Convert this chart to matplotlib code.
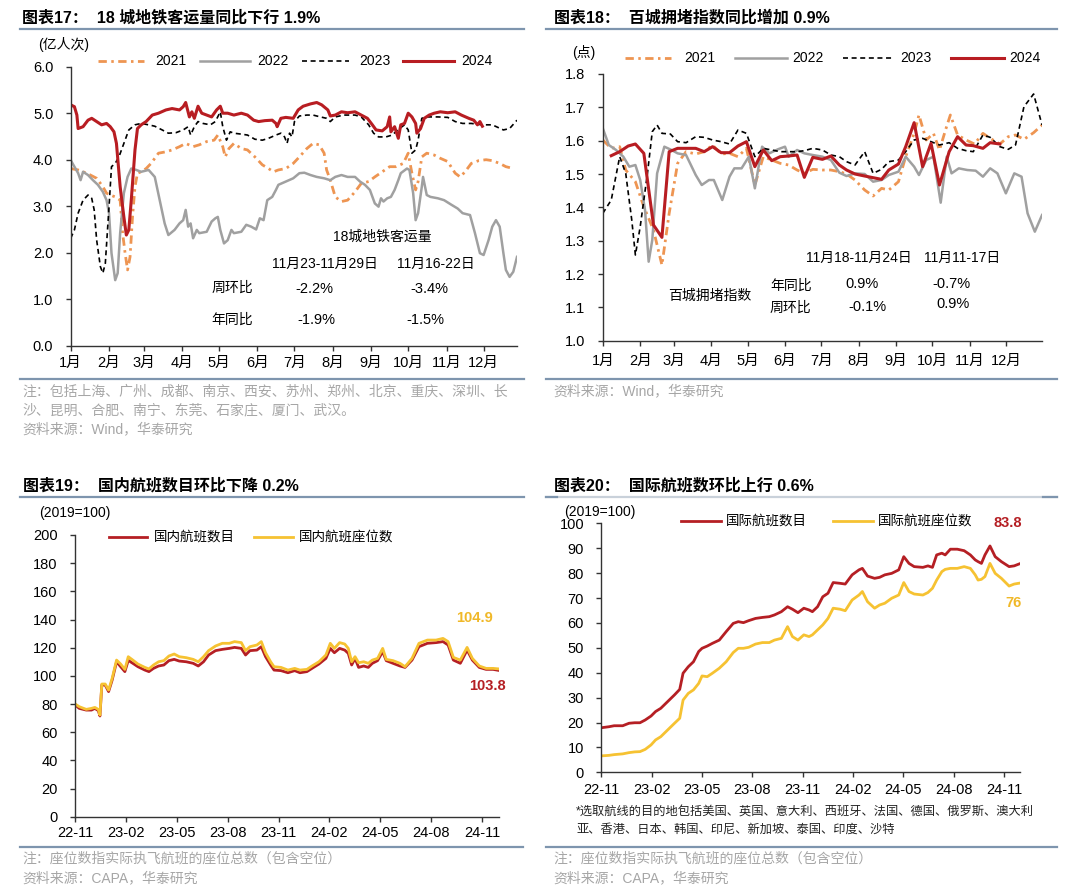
import numpy as np
import matplotlib
matplotlib.use('Agg')
import matplotlib.pyplot as plt
from matplotlib.lines import Line2D

plt.rcParams['font.family'] = ['Liberation Sans', 'Noto Sans CJK SC', 'DejaVu Sans']
plt.rcParams['lines.scale_dashes'] = False
plt.rcParams['axes.unicode_minus'] = False

# ---------------- DATA ----------------
month_labels = ['1月', '2月', '3月', '4月', '5月', '6月', '7月', '8月', '9月', '10月', '11月', '12月']
month_start_days = [0, 31, 59, 90, 120, 151, 181, 212, 243, 273, 304, 334]

# Chart 17: metro ridership (亿人次), x = day of year
metro_2021_day = [0, 6, 13, 21, 26, 29, 32, 36, 40, 42, 44, 46, 48, 50, 52, 54, 57, 61, 65, 71, 77, 82, 88, 93, 99, 104, 110, 116, 119, 123, 125, 128, 132, 138, 143, 149, 155, 160, 164, 168, 174, 180, 185, 191, 196, 201, 205, 207, 210, 214, 219, 224, 230, 235, 241, 246, 252, 258, 263, 269, 273, 276, 279, 281, 284, 288, 294, 299, 305, 311, 315, 319, 324, 330, 336, 341, 347, 352, 358]
metro_2021 = [3.81, 3.78, 3.71, 3.60, 3.42, 3.28, 3.24, 3.20, 3.13, 2.42, 1.99, 1.63, 1.91, 2.77, 3.42, 3.71, 3.74, 3.81, 3.92, 4.14, 4.17, 4.21, 4.28, 4.35, 4.28, 4.32, 4.39, 4.42, 4.53, 4.28, 4.06, 4.24, 4.35, 4.24, 4.21, 4.06, 3.89, 3.81, 3.74, 3.78, 3.81, 3.92, 4.06, 4.24, 4.35, 4.32, 4.14, 3.78, 3.56, 3.20, 3.10, 3.13, 3.31, 3.49, 3.53, 3.63, 3.74, 3.85, 3.85, 3.92, 4.14, 3.71, 3.35, 3.53, 4.06, 4.14, 4.10, 4.03, 3.96, 3.71, 3.63, 3.74, 3.92, 3.98, 4.00, 3.98, 3.92, 3.85, 3.81]

metro_2022_day = [0, 3, 6, 8, 10, 14, 18, 22, 26, 29, 31, 33, 36, 38, 40, 43, 46, 49, 53, 57, 63, 68, 72, 76, 79, 84, 88, 91, 93, 95, 97, 99, 102, 104, 110, 114, 117, 119, 121, 124, 127, 130, 132, 138, 142, 146, 150, 153, 156, 159, 163, 166, 168, 174, 180, 185, 189, 194, 199, 205, 210, 214, 219, 224, 230, 234, 238, 242, 246, 249, 251, 253, 256, 259, 262, 265, 267, 272, 274, 277, 279, 281, 284, 285, 288, 291, 297, 302, 308, 313, 317, 323, 327, 331, 334, 338, 341, 344, 347, 350, 352, 355, 358, 361]
metro_2022 = [3.99, 3.85, 3.71, 3.56, 3.74, 3.67, 3.56, 3.46, 3.31, 3.13, 2.85, 1.99, 1.41, 1.56, 2.42, 3.28, 3.63, 3.81, 3.78, 3.74, 3.78, 3.63, 3.13, 2.63, 2.38, 2.49, 2.63, 2.70, 2.92, 2.56, 2.63, 2.31, 2.49, 2.42, 2.45, 2.67, 2.74, 2.77, 2.49, 2.20, 2.27, 2.49, 2.42, 2.45, 2.60, 2.56, 2.50, 2.74, 2.70, 3.13, 3.20, 3.35, 3.46, 3.53, 3.60, 3.71, 3.72, 3.67, 3.63, 3.60, 3.56, 3.63, 3.67, 3.63, 3.63, 3.53, 3.46, 3.35, 3.06, 2.99, 3.17, 3.10, 3.17, 3.20, 3.35, 3.56, 3.71, 3.81, 3.78, 3.28, 2.70, 2.85, 3.42, 3.63, 3.24, 3.20, 3.17, 3.13, 3.03, 2.95, 2.85, 2.81, 2.42, 1.99, 1.95, 2.27, 2.56, 2.70, 2.56, 1.99, 1.63, 1.48, 1.59, 1.91]

metro_2023_day = [0, 3, 6, 10, 14, 17, 19, 21, 24, 26, 28, 31, 33, 36, 39, 43, 47, 52, 57, 63, 68, 74, 79, 85, 91, 95, 97, 100, 103, 107, 113, 117, 121, 123, 126, 129, 132, 138, 143, 149, 155, 160, 166, 170, 173, 175, 177, 179, 181, 185, 191, 196, 202, 207, 210, 214, 221, 230, 235, 241, 245, 249, 255, 260, 266, 270, 273, 276, 279, 281, 284, 288, 297, 305, 311, 317, 324, 333, 341, 350, 355, 361]
metro_2023 = [2.31, 2.49, 2.85, 3.13, 3.24, 3.17, 2.92, 2.27, 1.70, 1.56, 1.77, 2.99, 3.85, 3.92, 4.06, 4.35, 4.64, 4.75, 4.78, 4.75, 4.72, 4.64, 4.57, 4.58, 4.64, 4.71, 4.53, 4.71, 4.82, 4.78, 4.75, 4.82, 5.03, 4.71, 4.42, 4.60, 4.57, 4.55, 4.53, 4.44, 4.42, 4.46, 4.53, 4.57, 4.49, 4.35, 4.57, 4.49, 4.82, 4.94, 4.96, 4.96, 4.92, 4.89, 4.82, 4.92, 4.96, 4.96, 4.92, 4.75, 4.57, 4.49, 4.49, 4.53, 4.67, 4.75, 4.64, 4.14, 4.21, 4.42, 4.89, 4.92, 4.92, 4.91, 4.82, 4.78, 4.78, 4.75, 4.75, 4.64, 4.67, 4.85]

metro_2024_day = [0, 3, 5, 6, 10, 14, 17, 21, 25, 29, 32, 35, 37, 40, 43, 45, 47, 49, 52, 54, 57, 61, 66, 71, 77, 82, 88, 91, 93, 96, 98, 100, 103, 106, 110, 114, 118, 121, 123, 127, 132, 138, 143, 148, 152, 157, 163, 166, 167, 170, 174, 180, 184, 188, 194, 199, 203, 208, 210, 214, 219, 224, 230, 235, 240, 244, 247, 252, 256, 258, 259, 262, 265, 267, 270, 273, 276, 279, 280, 283, 286, 290, 294, 299, 305, 311, 316, 322, 326, 329, 331, 333]
metro_2024 = [5.18, 5.14, 4.96, 4.67, 4.71, 4.85, 4.89, 4.82, 4.75, 4.78, 4.71, 4.60, 4.35, 3.42, 2.77, 2.38, 2.49, 3.13, 4.21, 4.67, 4.75, 4.82, 4.96, 5.00, 5.07, 5.10, 5.07, 5.14, 5.23, 4.92, 5.03, 4.89, 5.15, 5.00, 4.96, 4.92, 5.07, 5.15, 5.00, 5.00, 4.96, 5.00, 4.96, 4.85, 4.82, 4.84, 4.85, 4.78, 4.71, 4.89, 4.91, 4.89, 5.07, 5.15, 5.20, 5.23, 5.18, 5.07, 4.94, 4.96, 5.03, 5.01, 5.03, 4.96, 4.89, 4.75, 4.64, 4.62, 4.71, 4.92, 4.60, 4.71, 4.46, 4.75, 4.78, 5.00, 4.92, 4.78, 4.57, 4.67, 4.89, 4.96, 5.00, 5.03, 5.01, 5.03, 4.96, 4.89, 4.85, 4.75, 4.82, 4.72]

# Chart 18: congestion index, x = day of year
cong_2021_day = [0, 7, 14, 19, 27, 34, 42, 49, 55, 62, 69, 77, 84, 91, 98, 105, 112, 119, 126, 133, 140, 147, 154, 161, 167, 174, 182, 189, 196, 202, 209, 217, 224, 231, 237, 245, 251, 258, 262, 268, 274, 279, 284, 288, 294, 301, 308, 315, 321, 329, 336, 342, 349, 357, 364]
cong_2021 = [1.602, 1.577, 1.582, 1.512, 1.477, 1.402, 1.332, 1.227, 1.382, 1.532, 1.567, 1.560, 1.567, 1.587, 1.560, 1.562, 1.552, 1.577, 1.467, 1.552, 1.542, 1.532, 1.527, 1.512, 1.502, 1.514, 1.512, 1.512, 1.507, 1.500, 1.482, 1.452, 1.434, 1.457, 1.452, 1.477, 1.552, 1.622, 1.677, 1.602, 1.622, 1.572, 1.632, 1.677, 1.617, 1.602, 1.590, 1.622, 1.607, 1.590, 1.612, 1.617, 1.604, 1.624, 1.647]

cong_2022_day = [0, 5, 11, 17, 22, 27, 31, 35, 38, 41, 45, 51, 57, 62, 69, 77, 82, 88, 92, 99, 105, 109, 115, 121, 126, 132, 138, 145, 151, 154, 161, 167, 174, 182, 189, 196, 202, 209, 217, 224, 231, 237, 245, 251, 258, 262, 268, 274, 280, 285, 289, 295, 302, 309, 315, 321, 327, 334, 341, 347, 352, 358, 364]
cong_2022 = [1.637, 1.587, 1.572, 1.552, 1.522, 1.527, 1.482, 1.392, 1.237, 1.302, 1.502, 1.582, 1.572, 1.562, 1.557, 1.497, 1.467, 1.482, 1.482, 1.422, 1.492, 1.517, 1.517, 1.552, 1.457, 1.582, 1.562, 1.574, 1.582, 1.552, 1.572, 1.562, 1.557, 1.552, 1.542, 1.504, 1.494, 1.502, 1.500, 1.477, 1.482, 1.497, 1.507, 1.552, 1.522, 1.497, 1.542, 1.552, 1.414, 1.552, 1.502, 1.517, 1.512, 1.510, 1.492, 1.517, 1.502, 1.442, 1.502, 1.492, 1.382, 1.327, 1.377]

cong_2023_day = [0, 7, 14, 19, 24, 27, 31, 37, 41, 45, 49, 56, 62, 69, 77, 84, 91, 98, 105, 112, 119, 126, 133, 140, 147, 154, 161, 167, 174, 182, 189, 196, 202, 209, 217, 224, 231, 237, 245, 251, 258, 265, 272, 279, 287, 294, 301, 307, 315, 321, 329, 336, 342, 349, 357, 364]
cong_2023 = [1.382, 1.422, 1.552, 1.502, 1.362, 1.257, 1.342, 1.502, 1.627, 1.647, 1.622, 1.620, 1.597, 1.594, 1.612, 1.610, 1.602, 1.597, 1.590, 1.632, 1.622, 1.552, 1.577, 1.572, 1.567, 1.567, 1.567, 1.570, 1.577, 1.572, 1.557, 1.552, 1.537, 1.527, 1.567, 1.502, 1.514, 1.537, 1.542, 1.567, 1.602, 1.607, 1.597, 1.587, 1.594, 1.577, 1.570, 1.567, 1.617, 1.610, 1.582, 1.574, 1.587, 1.702, 1.740, 1.647]

cong_2024_day = [7, 14, 21, 27, 34, 42, 49, 55, 62, 69, 77, 84, 91, 98, 105, 112, 119, 126, 133, 140, 147, 154, 161, 167, 174, 182, 189, 196, 202, 209, 217, 224, 231, 237, 245, 251, 258, 265, 272, 279, 287, 294, 301, 307, 315, 321, 329]
cong_2024 = [1.555, 1.567, 1.584, 1.590, 1.562, 1.347, 1.310, 1.567, 1.577, 1.577, 1.577, 1.567, 1.582, 1.564, 1.564, 1.584, 1.597, 1.522, 1.572, 1.540, 1.552, 1.554, 1.557, 1.490, 1.550, 1.544, 1.554, 1.527, 1.512, 1.500, 1.494, 1.489, 1.484, 1.512, 1.530, 1.582, 1.654, 1.522, 1.592, 1.467, 1.567, 1.612, 1.587, 1.585, 1.577, 1.594, 1.590]

# Chart 19 / 20: flights (2019=100), x = months since 2022-11
period_labels = ['22-11', '23-02', '23-05', '23-08', '23-11', '24-02', '24-05', '24-08', '24-11']
period_pos = [0, 3, 6, 9, 12, 15, 18, 21, 24]

dom_month = [0.00, 0.24, 0.65, 0.96, 1.16, 1.36, 1.46, 1.57, 1.77, 1.97, 2.18, 2.44, 2.68, 2.93, 3.13, 3.40, 3.70, 4.11, 4.35, 4.62, 4.92, 5.23, 5.53, 5.84, 6.14, 6.55, 6.96, 7.26, 7.57, 7.87, 8.28, 8.68, 9.09, 9.40, 9.80, 10.05, 10.31, 10.72, 10.98, 11.23, 11.53, 11.73, 12.14, 12.55, 12.95, 13.26, 13.67, 13.97, 14.38, 14.79, 15.05, 15.29, 15.60, 15.90, 16.11, 16.31, 16.51, 16.72, 17.02, 17.29, 17.53, 17.84, 18.14, 18.35, 18.75, 19.16, 19.46, 19.87, 20.28, 20.78, 21.29, 21.70, 22.00, 22.31, 22.72, 23.12, 23.43, 23.84, 24.24, 24.65, 25.02]
dom_flights = [79.3, 76.9, 75.7, 75.7, 76.9, 75.3, 71.5, 93.5, 93.5, 88.8, 97.0, 110.0, 106.5, 103.0, 111.0, 108.9, 106.5, 104.1, 103.0, 105.3, 107.0, 107.7, 110.8, 111.7, 110.5, 110.0, 108.9, 107.0, 110.0, 114.8, 117.9, 118.8, 119.5, 120.2, 119.5, 114.8, 117.9, 118.3, 120.7, 113.6, 107.7, 104.1, 103.7, 102.2, 103.7, 102.2, 103.0, 105.3, 108.4, 112.4, 119.5, 116.4, 119.5, 118.3, 116.0, 107.7, 112.4, 106.0, 107.0, 106.0, 108.9, 110.8, 117.2, 110.8, 108.9, 107.0, 106.0, 111.2, 120.7, 123.1, 123.6, 124.3, 121.9, 111.2, 108.9, 118.3, 111.2, 106.0, 104.6, 104.6, 103.8]
dom_seats = [80.0, 78.1, 76.2, 76.9, 77.6, 76.2, 72.2, 94.2, 94.2, 89.9, 98.2, 111.2, 108.4, 104.6, 113.6, 111.2, 108.4, 106.0, 104.9, 107.7, 110.0, 110.8, 114.1, 115.5, 113.6, 112.9, 111.7, 110.0, 113.6, 117.9, 121.2, 123.1, 123.1, 124.3, 123.6, 117.9, 120.7, 121.9, 124.3, 116.4, 110.0, 106.5, 106.0, 104.1, 105.3, 104.1, 104.6, 107.0, 110.0, 114.8, 123.1, 119.5, 123.6, 122.6, 119.5, 110.0, 113.6, 109.3, 110.0, 108.9, 111.2, 112.4, 119.5, 111.7, 110.8, 108.9, 106.5, 112.4, 123.1, 125.4, 125.4, 126.6, 124.3, 113.1, 111.2, 120.2, 112.4, 107.0, 105.3, 105.3, 104.9]

intl_month = [0.00, 0.45, 0.76, 1.27, 1.65, 1.99, 2.30, 2.61, 2.96, 3.23, 3.54, 3.95, 4.36, 4.67, 4.87, 5.18, 5.49, 5.80, 6.00, 6.31, 6.62, 7.03, 7.44, 7.86, 8.16, 8.47, 8.78, 9.19, 9.60, 10.01, 10.32, 10.73, 11.10, 11.39, 11.72, 12.07, 12.38, 12.58, 12.89, 13.20, 13.51, 13.82, 14.23, 14.54, 14.95, 15.36, 15.56, 15.87, 16.29, 16.59, 16.90, 17.31, 17.73, 18.03, 18.34, 18.65, 19.17, 19.47, 19.74, 19.99, 20.30, 20.50, 20.81, 21.22, 21.63, 22.00, 22.29, 22.46, 22.66, 22.87, 23.17, 23.48, 23.85, 24.31, 24.61, 24.96]
intl_flights = [17.9, 18.3, 18.7, 18.7, 19.7, 19.9, 19.9, 21.0, 22.6, 24.4, 25.7, 28.4, 31.1, 33.3, 39.8, 42.4, 44.4, 48.5, 49.8, 50.7, 51.8, 53.1, 56.5, 59.8, 60.5, 60.1, 60.9, 61.8, 62.2, 62.5, 63.2, 64.5, 66.5, 65.5, 64.1, 65.9, 65.2, 64.5, 66.5, 70.5, 71.9, 76.2, 75.9, 75.6, 79.3, 81.3, 81.9, 78.8, 77.9, 78.3, 79.3, 79.9, 81.3, 86.6, 83.9, 82.6, 82.3, 82.9, 82.3, 87.3, 88.0, 87.3, 89.6, 89.6, 89.0, 87.3, 85.3, 84.6, 83.9, 87.3, 90.9, 86.6, 84.6, 82.6, 82.9, 83.8]
intl_seats = [6.6, 6.8, 7.1, 7.4, 7.9, 8.2, 8.3, 9.2, 11.0, 13.0, 14.3, 17.0, 19.7, 21.7, 29.0, 31.7, 33.1, 35.7, 38.7, 38.4, 39.8, 41.8, 44.4, 48.1, 49.8, 49.8, 50.2, 51.5, 52.1, 52.1, 53.1, 53.8, 58.5, 54.5, 53.1, 55.2, 54.5, 55.2, 57.2, 59.2, 61.8, 65.9, 65.5, 64.9, 69.2, 71.2, 72.6, 68.5, 65.9, 67.2, 67.9, 69.9, 71.2, 76.2, 72.6, 71.6, 71.2, 72.2, 73.9, 77.2, 80.6, 81.5, 81.9, 81.9, 82.6, 81.9, 79.3, 77.2, 77.5, 78.6, 83.9, 79.9, 77.9, 74.8, 75.6, 76.0]

# ---------------- STYLE ----------------
C21, C22, C23, C24 = '#EE9552', '#A0A0A0', '#000000', '#B81D22'
CRED, CYEL = '#B51F24', '#F6C232'
BORDER = '#7E95AE'
NOTE = '#A6A6A6'
styles = {
    '2021': dict(color=C21, lw=2.0, ls=(0, (6, 3.2, 1.8, 3.2))),
    '2022': dict(color=C22, lw=1.8, ls='-'),
    '2023': dict(color=C23, lw=1.2, ls=(0, (3.6, 2.6))),
    '2024': dict(color=C24, lw=2.2, ls='-'),
}

W, H = 1080, 894
fig = plt.figure(figsize=(W / 100, H / 100), dpi=100)


def box(l, r, t, b):
    return [l / W, 1 - b / H, (r - l) / W, (b - t) / H]


def ftext(x, y, s, **kw):
    kw.setdefault('va', 'center')
    kw.setdefault('ha', 'left')
    fig.text(x / W, 1 - y / H, s, **kw)


def fline(x0, x1, y, **kw):
    fig.add_artist(Line2D([x0 / W, x1 / W], [1 - y / H, 1 - y / H],
                          transform=fig.transFigure, **kw))


def style_axes(ax):
    for s in ['top', 'right']:
        ax.spines[s].set_visible(False)
    for s in ['left', 'bottom']:
        ax.spines[s].set_color('#333333')
        ax.spines[s].set_linewidth(1.0)
    ax.tick_params(axis='y', direction='out', length=3.5, width=1, color='#333333',
                   pad=9, labelsize=10.5)
    ax.tick_params(axis='x', direction='out', length=3.5, width=1, color='#333333',
                   pad=4, labelsize=10.5)


TFS = 11.5  # title font size

# ---------------- Panel 17 ----------------
ax1 = fig.add_axes(box(70.7, 517, 66.7, 345.7))
ax1.plot(metro_2021_day, metro_2021, **styles['2021'])
ax1.plot(metro_2022_day, metro_2022, **styles['2022'])
ax1.plot(metro_2023_day, metro_2023, **styles['2023'])
ax1.plot(metro_2024_day, metro_2024, **styles['2024'])
ax1.set_xlim(0, 361)
ax1.set_ylim(0, 6)
ax1.set_yticks(np.arange(0, 6.01, 1.0))
ax1.set_yticklabels([f'{v:.1f}' for v in np.arange(0, 6.01, 1.0)])
ax1.set_xticks(month_start_days)
ax1.set_xticklabels(month_labels)
style_axes(ax1)

ftext(22, 18, '图表17：  18 城地铁客运量同比下行 1.9%', fontsize=TFS, fontweight='bold')
fline(20, 524, 29, color=BORDER, lw=1.6)
ftext(38, 45, '(亿人次)', fontsize=10)
for (x0, x1, tx, lab) in [(97.6, 144, 155, '2021'), (200, 250, 257, '2022'),
                          (302, 349, 359, '2023'), (403, 454, 461, '2024')]:
    fline(x0, x1, 60.7, **styles[lab])
    ftext(tx, 60.7, lab, fontsize=10)
ftext(382, 236.7, '18城地铁客运量', fontsize=10, ha='center')
ftext(325, 264, '11月23-11月29日', fontsize=10, ha='center')
ftext(436, 264, '11月16-22日', fontsize=10, ha='center')
ftext(232, 288, '周环比', fontsize=10, ha='center')
ftext(314, 289, '-2.2%', fontsize=10.5, ha='center')
ftext(429, 289, '-3.4%', fontsize=10.5, ha='center')
ftext(232, 320, '年同比', fontsize=10, ha='center')
ftext(316.5, 320, '-1.9%', fontsize=10.5, ha='center')
ftext(425, 320, '-1.5%', fontsize=10.5, ha='center')
fline(20, 524, 379, color=BORDER, lw=1.6)
ftext(22, 392, '注：包括上海、广州、成都、南京、西安、苏州、郑州、北京、重庆、深圳、长', fontsize=10, color=NOTE)
ftext(22, 410.5, '沙、昆明、合肥、南宁、东莞、石家庄、厦门、武汉。', fontsize=10, color=NOTE)
ftext(22, 429, '资料来源：Wind，华泰研究', fontsize=10, color=NOTE)

# ---------------- Panel 18 ----------------
ax2 = fig.add_axes(box(602.8, 1041.7, 74, 340.7))
ax2.plot(cong_2021_day, cong_2021, **styles['2021'])
ax2.plot(cong_2022_day, cong_2022, **styles['2022'])
ax2.plot(cong_2023_day, cong_2023, **styles['2023'])
ax2.plot(cong_2024_day, cong_2024, **styles['2024'])
ax2.set_xlim(0, 363.7)
ax2.set_ylim(1.0, 1.8)
yt2 = np.round(np.arange(1.0, 1.801, 0.1), 1)
ax2.set_yticks(yt2)
ax2.set_yticklabels([f'{v:.1f}' for v in yt2])
ax2.set_xticks(month_start_days)
ax2.set_xticklabels(month_labels)
style_axes(ax2)
ax2.tick_params(axis='x', pad=6)

ftext(553.8, 18.3, '图表18：  百城拥堵指数同比增加 0.9%', fontsize=TFS, fontweight='bold')
fline(546, 1057, 29, color=BORDER, lw=1.6)
ftext(583.8, 53, '(点)', fontsize=10, ha='center')
for (x0, x1, tx, lab) in [(624.5, 671, 684, '2021'), (735, 786.5, 792, '2022'),
                          (843, 892, 900, '2023'), (951, 1004, 1009, '2024')]:
    fline(x0, x1, 58.3, **styles[lab])
    ftext(tx, 58.3, lab, fontsize=10)
ftext(859, 258.3, '11月18-11月24日', fontsize=10, ha='center')
ftext(962.4, 258.3, '11月11-17日', fontsize=10, ha='center')
ftext(790.7, 286, '年同比', fontsize=10, ha='center')
ftext(862.4, 284.3, '0.9%', fontsize=10.5, ha='center')
ftext(951, 284.3, '-0.7%', fontsize=10.5, ha='center')
ftext(710, 296, '百城拥堵指数', fontsize=10, ha='center')
ftext(790.7, 307.3, '周环比', fontsize=10, ha='center')
ftext(867.6, 306.7, '-0.1%', fontsize=10.5, ha='center')
ftext(952.8, 304.3, '0.9%', fontsize=10.5, ha='center')
fline(546, 1057, 379, color=BORDER, lw=1.6)
ftext(553.8, 391, '资料来源：Wind，华泰研究', fontsize=10, color=NOTE)

# ---------------- Panel 19 ----------------
ax3 = fig.add_axes(box(75.2, 499.3, 535, 816.7))
ax3.plot(dom_month, dom_flights, color=CRED, lw=2.0)
ax3.plot(dom_month, dom_seats, color=CYEL, lw=2.0)
ax3.set_xlim(0, 25.02)
ax3.set_ylim(0, 200)
ax3.set_yticks(np.arange(0, 201, 20))
ax3.set_xticks(period_pos)
ax3.set_xticklabels(period_labels)
style_axes(ax3)
ax3.tick_params(axis='x', pad=3.5)

ftext(23.4, 486, '图表19：  国内航班数目环比下降 0.2%', fontsize=TFS, fontweight='bold')
fline(20, 524, 497.3, color=BORDER, lw=1.6)
ftext(75, 512.7, '(2019=100)', fontsize=10, ha='center')
fline(108.6, 146.6, 537.3, color=CRED, lw=2.0)
ftext(153.4, 537.3, '国内航班数目', fontsize=9.7)
fline(254.5, 293, 537.3, color=CYEL, lw=2.0)
ftext(299.3, 537.3, '国内航班座位数', fontsize=9.7)
ftext(474.8, 618, f'{dom_seats[-1]:.1f}', fontsize=10.5, fontweight='bold', color='#F0B828', ha='center')
ftext(487, 686, f'{dom_flights[-1]:.1f}', fontsize=10.5, fontweight='bold', color=CRED, ha='center')
fline(20, 523, 847, color=BORDER, lw=1.6)
ftext(22, 858.5, '注：座位数指实际执飞航班的座位总数（包含空位）', fontsize=10, color=NOTE)
ftext(22, 878.5, '资料来源：CAPA，华泰研究', fontsize=10, color=NOTE)

# ---------------- Panel 20 ----------------
ax4 = fig.add_axes(box(601.4, 1020, 523.3, 772.3))
ax4.plot(intl_month, intl_flights, color=CRED, lw=2.0)
ax4.plot(intl_month, intl_seats, color=CYEL, lw=2.0)
ax4.set_xlim(0, 24.96)
ax4.set_ylim(0, 100)
ax4.set_yticks(np.arange(0, 101, 10))
ax4.set_xticks(period_pos)
ax4.set_xticklabels(period_labels)
style_axes(ax4)
ax4.tick_params(axis='x', pad=4)

ftext(553.8, 486, '图表20：  国际航班数环比上行 0.6%', fontsize=TFS, fontweight='bold')
fline(546, 1057, 496.7, color='#C9D1DA', lw=1.6)
fline(546, 557, 496.7, color=BORDER, lw=1.6)
fline(1043, 1057, 496.7, color=BORDER, lw=1.6)
ftext(599.5, 511.7, '(2019=100)', fontsize=10, ha='center')
fline(681.4, 721, 521, color=CRED, lw=2.0)
ftext(726, 521, '国际航班数目', fontsize=9.7)
fline(833, 872.8, 521, color=CYEL, lw=2.0)
ftext(878, 521, '国际航班座位数', fontsize=9.7)
ftext(1008, 523.3, f'{intl_flights[-1]:.1f}', fontsize=10.5, fontweight='bold', color=CRED, ha='center')
ftext(1013, 603.3, f'{intl_seats[-1]:.0f}', fontsize=10.5, fontweight='bold', color='#F0B828', ha='center')
ftext(576, 812.7, '*选取航线的目的地包括美国、英国、意大利、西班牙、法国、德国、俄罗斯、澳大利', fontsize=8.8, color='#222222')
ftext(576, 829.3, '亚、香港、日本、韩国、印尼、新加坡、泰国、印度、沙特', fontsize=8.8, color='#222222')
fline(546, 1057, 847.3, color=BORDER, lw=1.6)
ftext(553.8, 858.3, '注：座位数指实际执飞航班的座位总数（包含空位）', fontsize=10, color=NOTE)
ftext(553.8, 878.3, '资料来源：CAPA，华泰研究', fontsize=10, color=NOTE)

fig.savefig('out.png', dpi=100, facecolor='white')
